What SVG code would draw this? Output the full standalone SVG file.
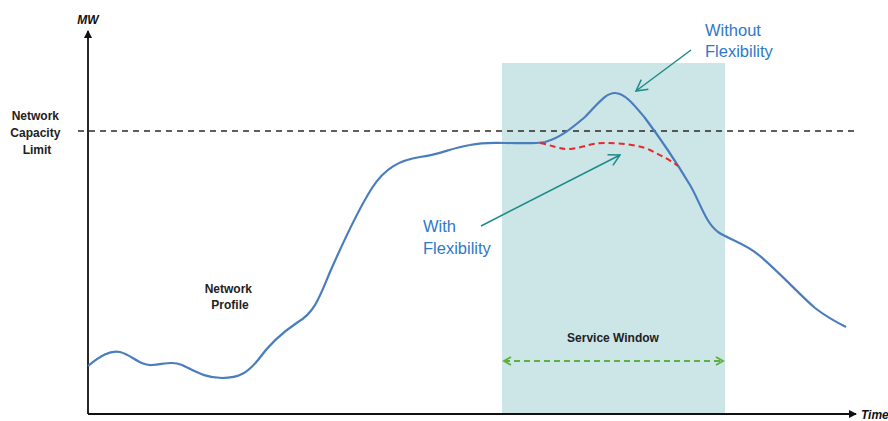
<svg xmlns="http://www.w3.org/2000/svg" width="888" height="421" viewBox="0 0 888 421">
  <defs>
    <marker id="axisHead" markerWidth="8" markerHeight="8" refX="7" refY="4" orient="auto" markerUnits="userSpaceOnUse">
      <path d="M0,0 L8,4 L0,8 Z" fill="#111"/>
    </marker>
    <marker id="tealHead" markerWidth="14" markerHeight="14" refX="12" refY="7" orient="auto" markerUnits="userSpaceOnUse">
      <path d="M1,1 L12,7 L1,13" fill="none" stroke="#1f8a8a" stroke-width="1.5"/>
    </marker>
    <marker id="greenHead" markerWidth="10" markerHeight="10" refX="8" refY="5" orient="auto-start-reverse" markerUnits="userSpaceOnUse">
      <path d="M1,1 L8,5 L1,9" fill="none" stroke="#5db13c" stroke-width="1.8"/>
    </marker>
    <style>
      .lbl { font-family: "Liberation Sans", Arial, sans-serif; font-weight: bold; font-size: 12px; fill: #222; }
      .ax { font-family: "Liberation Sans", Arial, sans-serif; font-weight: bold; font-style: italic; font-size: 12px; fill: #111; }
      .note { font-family: "Liberation Sans", Arial, sans-serif; font-size: 16.5px; fill: #2f78c8; }
    </style>
  </defs>

  <rect width="888" height="421" fill="#fff"/>

  <!-- service window band -->
  <g id="service-window">
    <rect x="502" y="63" width="223" height="351" fill="#cce5e6"/>
    <text class="lbl" x="613" y="342" text-anchor="middle">Service Window</text>
  </g>

  <!-- axes -->
  <g id="axes">
    <line x1="88" y1="414" x2="88" y2="31" stroke="#111" stroke-width="1.8" marker-end="url(#axisHead)"/>
    <line x1="88" y1="414" x2="856" y2="414" stroke="#111" stroke-width="1.8" marker-end="url(#axisHead)"/>
    <text class="ax" x="88" y="24" text-anchor="middle">MW</text>
    <text class="ax" x="861" y="419">Time</text>
  </g>

  <!-- capacity limit -->
  <g id="capacity-limit">
    <line x1="78" y1="131" x2="856" y2="131" stroke="#2a2a2a" stroke-width="1.6" stroke-dasharray="6,5"/>
    <text class="lbl" text-anchor="middle">
      <tspan x="37" y="120">Network</tspan>
      <tspan x="37" y="137">Capacity</tspan>
      <tspan x="37" y="154">Limit</tspan>
    </text>
  </g>

  <!-- load profile -->
  <g id="network-profile">
    <path d="M88,366 C100,356 110,350 120,352 C132,355 140,366 152,365 C165,364 172,361 182,365 C195,371 205,378 222,378 C240,378 248,372 258,360 C270,343 283,332 298,322 C315,312 320,296 330,272 C345,238 358,210 372,188 C385,168 400,160 420,157 C440,155 450,148 470,145 C485,142 495,143 505,143 C520,143 535,144 545,142 C560,138 572,128 585,117 C598,104 605,93 615,93 C625,93 635,106 645,118 C660,138 678,165 690,185 C700,202 705,222 718,232 C730,240 745,243 760,256 C780,273 800,295 815,308 C828,318 838,323 846,327" fill="none" stroke="#4a7dbd" stroke-width="2.2"/>
    <text class="lbl" text-anchor="middle">
      <tspan x="230" y="293">Network</tspan>
      <tspan x="230" y="309">Profile</tspan>
    </text>
  </g>

  <!-- flexible profile -->
  <g id="flexible-profile">
    <path d="M540,143 C552,145 560,150 570,149 C582,148 590,143 605,143 C620,143 640,145 650,150 C662,156 670,160 678,166" fill="none" stroke="#e8282a" stroke-width="2" stroke-dasharray="6,4"/>
  </g>

  <!-- annotations -->
  <g id="without-flexibility">
    <text class="note">
      <tspan x="705" y="36">Without</tspan>
      <tspan x="705" y="57">Flexibility</tspan>
    </text>
  </g>
  <g id="with-flexibility">
    <text class="note">
      <tspan x="423" y="232">With</tspan>
      <tspan x="423" y="254">Flexibility</tspan>
    </text>
  </g>

  <g id="connectors">
    <line x1="691" y1="50" x2="636" y2="91" stroke="#1f8a8a" stroke-width="1.5" marker-end="url(#tealHead)"/>
    <line x1="481" y1="226" x2="620" y2="155" stroke="#1f8a8a" stroke-width="1.5" marker-end="url(#tealHead)"/>
    <line x1="504" y1="361" x2="723" y2="361" stroke="#5db13c" stroke-width="1.8" stroke-dasharray="6,4" marker-start="url(#greenHead)" marker-end="url(#greenHead)"/>
  </g>
</svg>
